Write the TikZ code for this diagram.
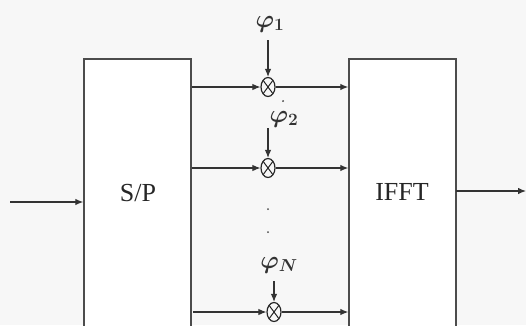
\documentclass[tikz,border=0pt]{standalone}
\usepackage{fontspec}
\setmainfont{Liberation Serif}
\usetikzlibrary{arrows.meta,shapes.geometric}
\begin{document}
\begin{tikzpicture}[x=1pt,y=-1pt,
  line/.style={draw=black!80,line width=1.1pt},
  arr/.style={line,-{Latex[length=8pt,width=6.5pt]}},
  block/.style={draw=black!70,line width=1.4pt,fill=white,rectangle,minimum width=107pt,minimum height=271pt,inner sep=0pt},
  mult/.style={draw=black!85,line width=1.2pt,ellipse,minimum width=14pt,minimum height=19pt,inner sep=0pt,
    path picture={\draw[black!85,line width=1pt] (path picture bounding box.north west)--(path picture bounding box.south east)
      (path picture bounding box.north east)--(path picture bounding box.south west);}},
  phil/.style={font=\fontsize{25}{25}\selectfont\boldmath,inner sep=0pt,text=black!80},
  dotm/.style={fill=black!70,circle,inner sep=0pt,minimum size=2pt}]
\clip (0,0) rectangle (526,325);
\fill[black!3] (0,0) rectangle (526,325);
\node[block] (sp) at (137.5,194.5) {};
\node[font=\fontsize{26}{26}\selectfont,text=black!85] (sptxt) at (138,193) {S/P};
\node[block] (ifft) at (402.5,194.5) {};
\node[font=\fontsize{26}{26}\selectfont,text=black!85] (iffttxt) at (402,192) {IFFT};
% input / output
\coordinate (in) at (10,202);
\draw[arr] (in) -- (in -| sp.west);
\coordinate (outs) at (456,191);
\coordinate (oute) at (526,191);
\draw[arr] (outs) -- (oute);
% multipliers
\node[mult] (m1) at (268,87) {};
\node[mult] (m2) at (268,168) {};
\node[mult] (mN) at (274,312) {};
\draw[arr] (m1 -| sp.east) -- (m1);
\draw[arr] (m1) -- (m1 -| ifft.west);
\draw[arr] (m2 -| sp.east) -- (m2);
\draw[arr] (m2) -- (m2 -| ifft.west);
\coordinate (sN) at (193,312);
\draw[arr] (sN) -- (mN);
\draw[arr] (mN) -- (mN -| ifft.west);
% phase labels
\node[phil] (p1) at (270,24) {$\varphi_1$};
\coordinate (a1) at (268,40);
\draw[arr] (a1) -- (m1.north);
\node[phil] (p2) at (284,119) {$\varphi_2$};
\coordinate (a2) at (268,128);
\draw[arr] (a2) -- (m2.north);
\node[phil] (pN) at (279,265) {$\varphi_N$};
\coordinate (aN) at (274,281);
\draw[arr] (aN) -- (mN.north);
% dots
\node[dotm] (d0) at (283,101) {};
\node[dotm] (d1) at (268,209) {};
\node[dotm] (d2) at (268,232) {};
\end{tikzpicture}
\end{document}
